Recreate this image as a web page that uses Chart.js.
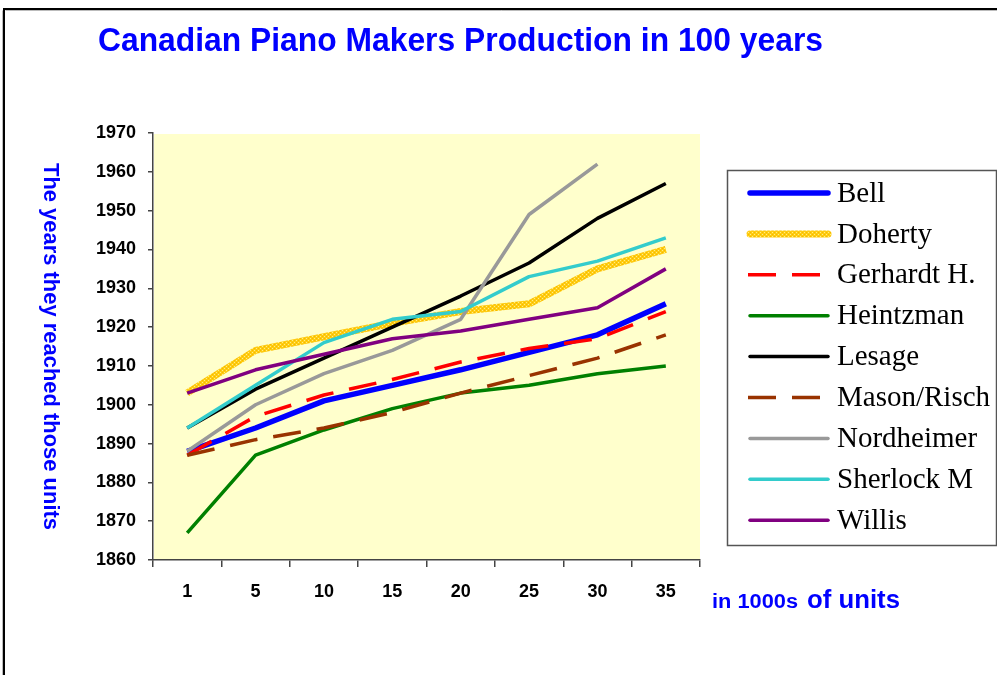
<!DOCTYPE html>
<html>
<head>
<meta charset="utf-8">
<script src="https://cdn.jsdelivr.net/npm/chart.js@4/dist/chart.umd.min.js"></script>
<style>
html,body{margin:0;padding:0;background:#fff;}
canvas{display:block;}
</style>
</head>
<body>
<canvas id="c" width="997" height="675"></canvas>
<script>
// ---- data ----
const categories = ['1', '5', '10', '15', '20', '25', '30', '35'];
const seriesNames = ['Bell', 'Doherty', 'Gerhardt H.', 'Heintzman', 'Lesage', 'Mason/Risch', 'Nordheimer', 'Sherlock M', 'Willis'];
const bell       = [1888, 1894, 1901, 1905, 1909, 1913.5, 1918, 1926];
const doherty    = [1903, 1914, 1917.5, 1921, 1924, 1926, 1935, 1940];
const gerhardt   = [1887, 1897, 1902.5, 1906.5, 1911, 1914.5, 1917, 1924];
const heintzman  = [1867, 1887, 1893.5, 1899, 1903, 1905, 1908, 1910];
const lesage     = [1894, 1904, 1912, 1920, 1928, 1936.5, 1948, 1957];
const masonRisch = [1887, 1891, 1894, 1898, 1903, 1907.5, 1912, 1918];
const nordheimer = [1888, 1900, 1908, 1914, 1922, 1949, 1962, null];
const sherlock   = [1894, 1905, 1916, 1922, 1924, 1933, 1937, 1943];
const willis     = [1903, 1909, 1913, 1917, 1919, 1922, 1925, 1935];
const yMin = 1860, yMax = 1970, yStep = 10;

const canvas = document.getElementById('c');
const ctx0 = canvas.getContext('2d');

function dottedGold(){
  const c = document.createElement('canvas');
  c.width = 4; c.height = 4;
  const g = c.getContext('2d');
  g.fillStyle = '#FFCC11'; g.fillRect(0,0,4,4);
  g.fillStyle = '#FFEE88';
  g.fillRect(0,0,1,1); g.fillRect(2,2,1,1);
  g.fillStyle = '#F5B800';
  g.fillRect(2,0,1,1); g.fillRect(0,2,1,1);
  return ctx0.createPattern(c, 'repeat');
}
const goldPattern = dottedGold();

const styles = [
  {color:'#0000FF', width:5.5, dash:[]},
  {color:goldPattern, width:7, dash:[]},
  {color:'#FF0000', width:3.5, dash:[28,16]},
  {color:'#008000', width:3.5, dash:[]},
  {color:'#000000', width:3.5, dash:[]},
  {color:'#993300', width:3.5, dash:[28,16]},
  {color:'#999999', width:3.5, dash:[]},
  {color:'#33CCCC', width:3.5, dash:[]},
  {color:'#800080', width:3.5, dash:[]}
];
const values = [bell, doherty, gerhardt, heintzman, lesage, masonRisch, nordheimer, sherlock, willis];

const datasets = seriesNames.map((n, i) => ({
  label: n,
  data: values[i],
  borderColor: styles[i].color,
  backgroundColor: styles[i].color,
  borderWidth: styles[i].width,
  borderDash: styles[i].dash,
  borderCapStyle: 'butt',
  borderJoinStyle: 'round',
  pointRadius: 0,
  pointHoverRadius: 0,
  tension: 0,
  fill: false,
  spanGaps: false,
  order: -i
}));

function drawScaled(ctx, text, x, y, targetW, font, color){
  ctx.save();
  ctx.font = font;
  ctx.fillStyle = color;
  const w = ctx.measureText(text).width;
  ctx.translate(x, y);
  ctx.scale(targetW / w, 1);
  ctx.fillText(text, 0, 0);
  ctx.restore();
}

const deco = {
  id: 'deco',
  beforeDraw(chart){
    const {ctx, chartArea: a} = chart;
    ctx.save();
    ctx.fillStyle = '#FFFFFF';
    ctx.fillRect(0, 0, chart.width, chart.height);
    ctx.fillStyle = '#FFFFCC';
    ctx.fillRect(a.left + 1, a.top + 1, a.right - a.left - 1, a.bottom - a.top - 1);
    // outer frame
    ctx.strokeStyle = '#000';
    ctx.lineWidth = 2;
    ctx.beginPath();
    ctx.moveTo(4, 675); ctx.lineTo(4, 9); ctx.lineTo(997, 9);
    ctx.stroke();
    ctx.strokeStyle = '#BBBBBB';
    ctx.lineWidth = 1;
    ctx.beginPath();
    ctx.moveTo(2.5, 675); ctx.lineTo(2.5, 10.5); ctx.moveTo(5.5, 10.5); ctx.lineTo(997, 10.5);
    ctx.stroke();
    ctx.restore();
  },
  afterDraw(chart){
    const ctx = chart.ctx;
    ctx.save();
    ctx.textBaseline = 'alphabetic';
    ctx.textAlign = 'left';
    // title
    drawScaled(ctx, 'Canadian Piano Makers Production in 100 years', 98, 51, 725, 'bold 34px "Liberation Sans", Arial, sans-serif', '#0000FF');
    // x axis title
    drawScaled(ctx, 'in 1000s', 712, 608, 86, 'bold 20px "Liberation Sans", Arial, sans-serif', '#0000FF');
    drawScaled(ctx, 'of units', 807, 608, 93, 'bold 25px "Liberation Sans", Arial, sans-serif', '#0000FF');
    // y axis title (rotated clockwise)
    ctx.save();
    ctx.translate(50, 163);
    ctx.rotate(Math.PI / 2);
    ctx.textBaseline = 'middle';
    drawScaled(ctx, 'The years they reached those units', 0, 0, 367, 'bold 22px "Liberation Sans", Arial, sans-serif', '#0000FF');
    ctx.restore();

    // legend box
    ctx.strokeStyle = '#555555';
    ctx.lineWidth = 1.5;
    ctx.strokeRect(727.5, 170.5, 269, 375);
    ctx.textBaseline = 'middle';
    ctx.font = '29px "Liberation Serif", "Times New Roman", serif';
    chart.data.datasets.forEach((ds, i) => {
      const y = 193 + i * 40.9;
      ctx.save();
      ctx.strokeStyle = ds.borderColor;
      ctx.lineWidth = ds.borderWidth;
      ctx.setLineDash(ds.borderDash || []);
      const dashed = ds.borderDash && ds.borderDash.length;
      ctx.lineCap = dashed ? 'butt' : 'round';
      ctx.beginPath();
      if (dashed) { ctx.moveTo(748, y); ctx.lineTo(830, y); }
      else { ctx.moveTo(750, y); ctx.lineTo(828, y); }
      ctx.stroke();
      ctx.restore();
      ctx.fillStyle = '#000';
      ctx.fillText(ds.label, 837, y + 1);
    });
    ctx.restore();
  }
};

new Chart(canvas, {
  type: 'line',
  data: { labels: categories, datasets: datasets },
  options: {
    responsive: false,
    animation: false,
    events: [],
    layout: { padding: { top: 133, right: 297, left: 0, bottom: 0 } },
    plugins: { legend: { display: false }, title: { display: false }, tooltip: { enabled: false } },
    scales: {
      x: {
        type: 'category',
        offset: true,
        afterFit(s){ s.height = 115; },
        grid: { display: true, drawOnChartArea: false, drawTicks: true, tickLength: 7, color: '#444', offset: true, lineWidth: 1.5 },
        border: { display: true, color: '#444', width: 1.5 },
        ticks: { color: '#000', padding: 14, maxRotation: 0, autoSkip: false, font: { family: '"Liberation Sans", Arial, sans-serif', size: 18, weight: 'bold' } }
      },
      y: {
        min: yMin, max: yMax,
        afterFit(s){ s.width = 153; },
        grid: { display: true, drawOnChartArea: false, drawTicks: true, tickLength: 5, color: '#444', lineWidth: 1.5 },
        border: { display: true, color: '#444', width: 1.5 },
        ticks: { stepSize: yStep, color: '#000', padding: 12, callback: (v) => String(v), font: { family: '"Liberation Sans", Arial, sans-serif', size: 18, weight: 'bold' } }
      }
    }
  },
  plugins: [deco]
});
</script>
</body>
</html>
